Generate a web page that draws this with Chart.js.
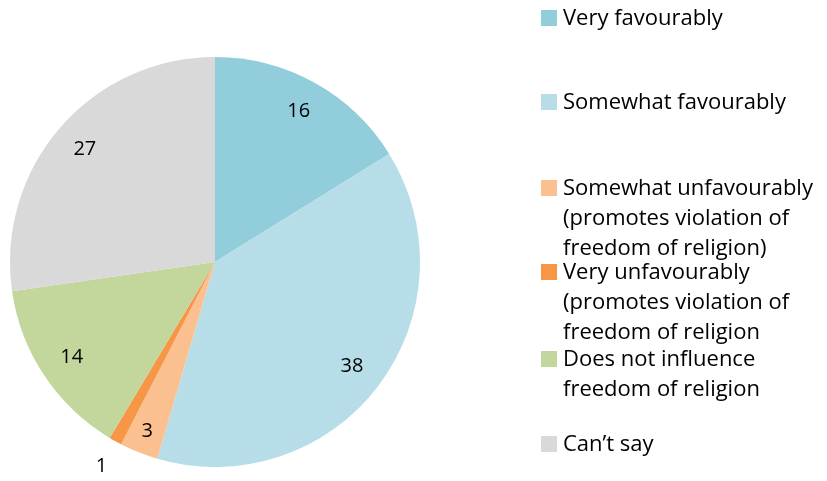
<!DOCTYPE html>
<html>
<head>
<meta charset="utf-8">
<script src="https://cdn.jsdelivr.net/npm/chart.js@4/dist/chart.umd.min.js"></script>
<style>
  html, body { margin: 0; padding: 0; background: #fff; }
  #grafica { display: block; }
</style>
</head>
<body>
<canvas id="grafica" width="827" height="481"></canvas>
<script>
const categorias = [
  "Very favourably",
  "Somewhat favourably",
  "Somewhat unfavourably (promotes violation of freedom of religion)",
  "Very unfavourably (promotes violation of freedom of religion",
  "Does not influence freedom of religion",
  "Can\u2019t say"
];
const valores = [16, 38, 3, 1, 14, 27];
const colores = ["#92CDDC", "#B7DEE8", "#FAC090", "#F79646", "#C3D69B", "#D9D9D9"];

// legend text, broken into lines the way it wraps
const lineasLeyenda = [
  ["Very favourably"],
  ["Somewhat favourably"],
  ["Somewhat unfavourably", "(promotes violation of", "freedom of religion)"],
  ["Very unfavourably", "(promotes violation of", "freedom of religion"],
  ["Does not influence", "freedom of religion"],
  ["Can\u2019t say"]
];

const fuente = "'Open Sans', Lato, sans-serif";

// numbers on the slices
const etiquetasPlugin = {
  id: "etiquetas",
  afterDatasetsDraw(chart) {
    const ctx = chart.ctx;
    const arcos = chart.getDatasetMeta(0).data;
    ctx.save();
    ctx.font = "20px " + fuente;
    ctx.fillStyle = "#000";
    ctx.textAlign = "center";
    ctx.textBaseline = "middle";
    arcos.forEach((arco, i) => {
      const v = valores[i];
      const medio = (arco.startAngle + arco.endAngle) / 2;
      let f = 0.84;
      if (v < 2) f = 1.14;
      else if (v < 5) f = 0.89;
      const r = arco.outerRadius * f;
      ctx.fillText(String(v), arco.x + Math.cos(medio) * r, arco.y + Math.sin(medio) * r);
    });
    ctx.restore();
  }
};

// legend on the right with square swatches
const leyendaPlugin = {
  id: "leyenda",
  afterDraw(chart) {
    const ctx = chart.ctx;
    const topes = [18, 102, 188, 272, 359, 444];
    const alto = 30;
    ctx.save();
    ctx.font = "22px " + fuente;
    ctx.textBaseline = "middle";
    ctx.textAlign = "left";
    lineasLeyenda.forEach((lineas, i) => {
      const y0 = topes[i];
      ctx.fillStyle = colores[i];
      ctx.fillRect(541, y0 - 8, 16, 16);
      ctx.fillStyle = "#000";
      lineas.forEach((t, j) => {
        ctx.fillText(t, 563, y0 + 1 + j * alto);
      });
    });
    ctx.restore();
  }
};

const $grafica = document.querySelector("#grafica");

new Chart($grafica, {
  type: "pie",
  data: {
    labels: categorias,
    datasets: [{
      data: valores,
      backgroundColor: colores,
      borderWidth: 0
    }]
  },
  options: {
    responsive: false,
    animation: false,
    layout: { padding: { left: 10, top: 57, right: 407, bottom: 14 } },
    plugins: {
      legend: { display: false },
      tooltip: { enabled: false }
    }
  },
  plugins: [etiquetasPlugin, leyendaPlugin]
});
</script>
</body>
</html>
